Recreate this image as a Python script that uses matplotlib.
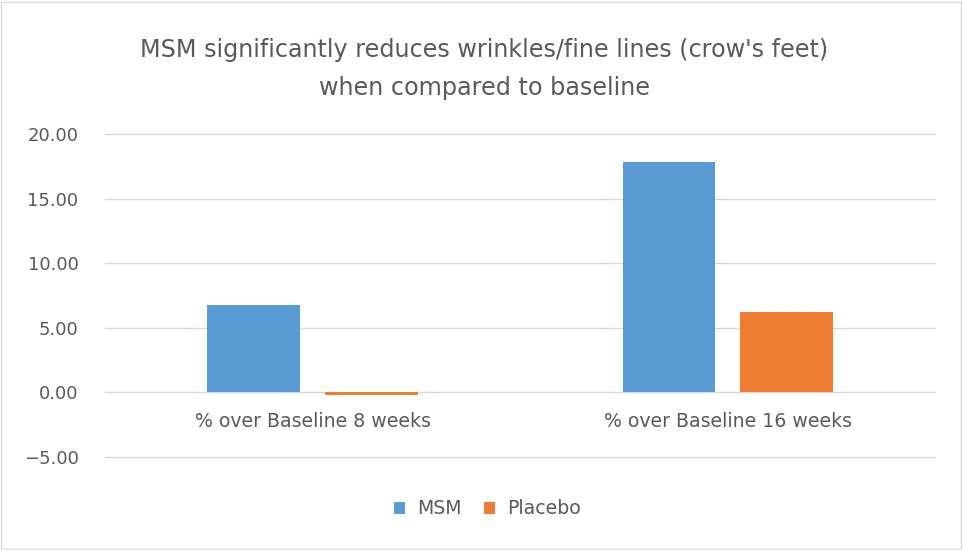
import numpy as np
import matplotlib.pyplot as plt
from matplotlib.patches import Rectangle

plt.rcParams['font.family'] = ['DejaVu Sans']

# 数据
categories = ['% over Baseline 8 weeks', '% over Baseline 16 weeks']
msm = [6.75, 17.85]
placebo = [-0.2, 6.25]
yticks = [-5, 0, 5, 10, 15, 20]

text_color = '#595959'
grid_color = '#D9D9D9'

fig = plt.figure(figsize=(9.63, 5.5), dpi=100)
ax = fig.add_axes([0.109, 0.169, 0.862, 0.587])

x = np.arange(len(categories))
w = 0.222
ax.bar(x - 0.142, msm, w, color='#5B9BD5', label='MSM', zorder=3)
ax.bar(x + 0.142, placebo, w, color='#ED7D31', label='Placebo', zorder=3)

ax.set_xlim(-0.5, 1.5)
ax.set_ylim(-5, 20)
ax.set_yticks(yticks)
ax.set_yticklabels([f'{v:.2f}'.replace('-', '\u2212') for v in yticks])
ax.set_xticks(x)
ax.set_xticklabels(categories)
ax.yaxis.grid(True, color=grid_color, linewidth=1, zorder=0)
for gl in ax.get_ygridlines():
    gl.set_clip_on(False)

for s in ['top', 'right', 'left']:
    ax.spines[s].set_visible(False)
ax.spines['bottom'].set_position(('data', 0))
ax.spines['bottom'].set_color(grid_color)
ax.tick_params(axis='both', length=0, colors=text_color, labelsize=13)
ax.tick_params(axis='x', labelsize=13.6, pad=14)
ax.tick_params(axis='y', pad=19)

fig.text(0.503, 0.875, "MSM significantly reduces wrinkles/fine lines (crow's feet)\nwhen compared to baseline",
         ha='center', va='center', fontsize=17.2, color=text_color, linespacing=1.72)

fig.legend(loc='center', bbox_to_anchor=(0.506, 0.075), ncol=2, frameon=False,
           fontsize=13.6, labelcolor=text_color, handlelength=0.6, handleheight=0.6,
           handletextpad=0.6, columnspacing=1.2)

# 外框
fig.patches.append(Rectangle((0.001, 0.002), 0.997, 0.995, transform=fig.transFigure,
                             fill=False, edgecolor=grid_color, linewidth=1))

fig.savefig('out.png', dpi=100)
